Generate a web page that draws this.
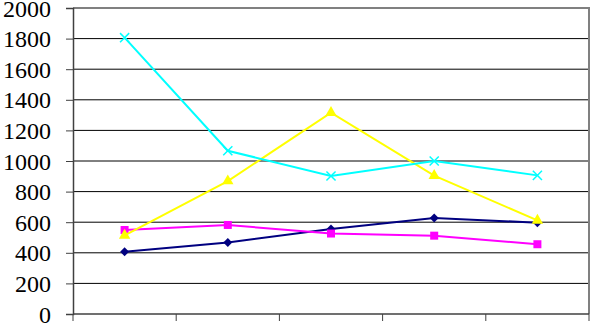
<!DOCTYPE html>
<html>
<head>
<meta charset="utf-8">
<script src="https://cdn.jsdelivr.net/npm/d3@7"></script>
<style>
  html, body { margin: 0; padding: 0; background: #fff; overflow: hidden; }
  svg { display: block; }
</style>
</head>
<body>
<div id="chart"></div>
<script>
const categories = ["1", "2", "3", "4", "5"];
const navyValues = [407, 467, 556, 627, 597];
const magentaValues = [549, 582, 526, 512, 456];
const yellowValues = [514, 869, 1316, 904, 612];
const cyanValues = [1806, 1067, 902, 1000, 906];
const yTicks = [0, 200, 400, 600, 800, 1000, 1200, 1400, 1600, 1800, 2000];

const series = [
  { name: "navy", values: navyValues, color: "#000080", marker: "diamond" },
  { name: "magenta", values: magentaValues, color: "#ff00ff", marker: "square" },
  { name: "yellow", values: yellowValues, color: "#ffff00", marker: "triangle" },
  { name: "cyan", values: cyanValues, color: "#00ffff", marker: "cross" },
];

const width = 591;
const height = 324;
const margin = { top: 8, right: 2, bottom: 10, left: 73 };
const serif = "'Liberation Serif', 'Times New Roman', serif";

const svg = d3
  .select("#chart")
  .append("svg")
  .attr("width", width)
  .attr("height", height);

const x = d3
  .scaleBand()
  .domain(categories)
  .range([margin.left, width - margin.right]);

const y = d3
  .scaleLinear()
  .domain([0, 2000])
  .range([height - margin.bottom, margin.top]);

// gridlines
svg
  .append("g")
  .selectAll("line")
  .data(yTicks.slice(1, -1))
  .join("line")
  .attr("x1", margin.left)
  .attr("x2", width - margin.right)
  .attr("y1", (d) => y(d))
  .attr("y2", (d) => y(d))
  .attr("stroke", "#000")
  .attr("stroke-width", 1);

// plot border (top and right)
svg
  .append("path")
  .attr("d", `M${margin.left},${y(2000)}H${width - margin.right}V${y(0)}`)
  .attr("fill", "none")
  .attr("stroke", "#808080")
  .attr("stroke-width", 2);

// y axis
const yAxis = svg
  .append("g")
  .attr("transform", `translate(${margin.left},0)`)
  .call(
    d3
      .axisLeft(y)
      .tickValues(yTicks)
      .tickFormat(d3.format("d"))
      .tickSize(7)
      .tickPadding(15)
  )
  .attr("font-family", serif)
  .attr("font-size", 24);
yAxis.select(".domain").attr("stroke", "#404040").attr("stroke-width", 1.5);
yAxis.selectAll(".tick line").attr("stroke", "#404040");
yAxis.selectAll(".tick text").attr("fill", "#000").attr("dy", "0.34em");

// x axis: ticks at category boundaries, no labels
const bounds = categories.map((c) => x(c)).concat([x.range()[1]]);
const xAxis = svg.append("g");
xAxis
  .append("line")
  .attr("x1", margin.left)
  .attr("x2", width - margin.right)
  .attr("y1", y(0))
  .attr("y2", y(0))
  .attr("stroke", "#404040")
  .attr("stroke-width", 1.5);
xAxis
  .selectAll("line.tick")
  .data(bounds)
  .join("line")
  .attr("class", "tick")
  .attr("x1", (d) => d)
  .attr("x2", (d) => d)
  .attr("y1", y(0))
  .attr("y2", y(0) + 7)
  .attr("stroke", "#404040");

const cx = (i) => x(categories[i]) + x.bandwidth() / 2;

const line = d3
  .line()
  .x((d, i) => cx(i))
  .y((d) => y(d));

const symbols = {
  diamond: d3.symbol().type(d3.symbolSquare).size(40),
  square: d3.symbol().type(d3.symbolSquare).size(64),
  triangle: d3.symbol().type(d3.symbolTriangle).size(56),
  cross: d3.symbol().type(d3.symbolX).size(56),
};

series.forEach((s) => {
  const g = svg.append("g");
  g.append("path")
    .datum(s.values)
    .attr("d", line)
    .attr("fill", "none")
    .attr("stroke", s.color)
    .attr("stroke-width", 2);

  g.selectAll("path.marker")
    .data(s.values)
    .join("path")
    .attr("class", "marker")
    .attr(
      "transform",
      (d, i) =>
        `translate(${cx(i)},${y(d)})` + (s.marker === "diamond" ? " rotate(45)" : "")
    )
    .attr("d", symbols[s.marker])
    .attr("fill", s.marker === "cross" ? "none" : s.color)
    .attr("stroke", s.color)
    .attr("stroke-width", s.marker === "cross" ? 1.5 : 0);
});
</script>
</body>
</html>
